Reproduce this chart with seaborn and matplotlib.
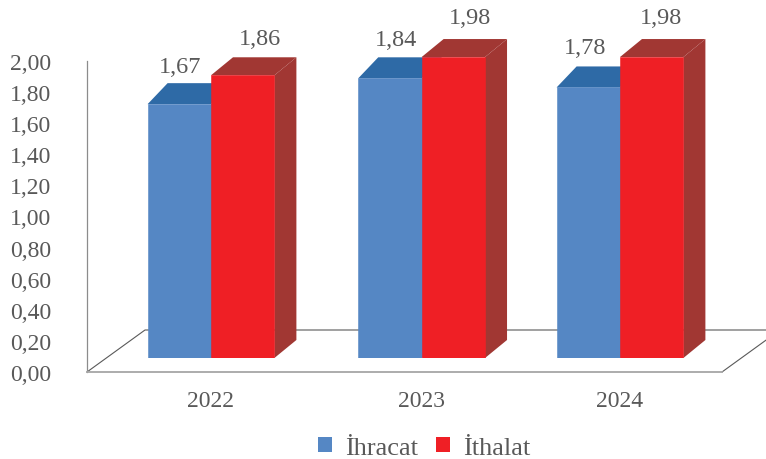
import pandas as pd
import seaborn as sns
import matplotlib.pyplot as plt
from matplotlib.patches import Polygon, Patch

# Data
years = ['2022', '2023', '2024']
ihracat = [1.67, 1.84, 1.78]
ithalat = [1.86, 1.98, 1.98]
series_names = ['İhracat', 'İthalat']
axis_ticks = [0.0, 0.2, 0.4, 0.6, 0.8, 1.0, 1.2, 1.4, 1.6, 1.8, 2.0]

# Styling
TEXT = '#595959'
FRONT = {'İhracat': '#5587C4', 'İthalat': '#EF1F25'}
TOP = {'İhracat': '#2E6AA6', 'İthalat': '#A13733'}
SIDE = {'İhracat': '#2E6AA6', 'İthalat': '#A13733'}

W, H = 766, 460
PX_PER_CAT = 204.5
PX_PER_UNIT = 152.0
BASE_Y = 359
LEFT, RIGHT = 87, 722
FLOOR_Y, TOP_Y = 373, 62
# bar depth in px per series
DEPTH = {'İhracat': (20, 21), 'İthalat': (22, 18)}
# the 2023 group sits slightly right of even spacing
GROUP_SHIFT = [0.0, 0.03, 0.0]
# value label offsets from the front top edge centre, px
LABEL_OFF = {'İhracat': [(1, 38), (6, 39), (-3, 40)], 'İthalat': [(17, 37), (17, 40), (9, 40)]}

sns.set_theme(style='white')
plt.rcParams['font.family'] = ['Liberation Serif', 'DejaVu Serif']

df = pd.DataFrame({
    'year': years * 2,
    'value': ihracat + ithalat,
    'series': [series_names[0]] * 3 + [series_names[1]] * 3,
})

fig = plt.figure(figsize=(W / 100, H / 100), dpi=100)

# Axis frame and floor, sits behind the bars
frame = fig.add_axes([LEFT / W, 1 - FLOOR_Y / H, (RIGHT - LEFT) / W, (FLOOR_Y - TOP_Y) / H])
frame.set_xlim(0, 1)
frame.set_ylim(0, 2)
frame.set_xticks([])
frame.set_yticks(axis_ticks)
frame.set_yticklabels([f'{t:.2f}'.replace('.', ',') for t in axis_ticks])
frame.tick_params(axis='y', length=0, pad=26, labelsize=17, labelcolor=TEXT)
sns.despine(ax=frame, top=True, right=True)
frame.spines['left'].set_color('#8c8c8c')
frame.spines['left'].set_linewidth(0.9)
frame.spines['bottom'].set_color('#a6a6a6')
frame.spines['bottom'].set_linewidth(1.3)
floor_dx = 58 / (RIGHT - LEFT)
floor_dy = 42 / (FLOOR_Y - TOP_Y) * 2
frame.plot([0, floor_dx, 1 + floor_dx], [0, floor_dy, floor_dy], color='#595959', lw=0.8, clip_on=False)
frame.plot([1, 1 + floor_dx], [0, floor_dy], color='#595959', lw=0.8, clip_on=False)

# Bars
ax = fig.add_axes([LEFT / W, 1 - BASE_Y / H, (RIGHT - LEFT) / W, (BASE_Y - 10) / H], zorder=2)
ax.patch.set_visible(False)
sns.barplot(data=df, x='year', y='value', hue='series', order=years, hue_order=series_names,
            palette=FRONT, saturation=1, width=0.62, gap=0, linewidth=0, legend=False, ax=ax)
ax.set_xlim(-(211 - LEFT) / PX_PER_CAT, 2 + (RIGHT - 620) / PX_PER_CAT)
ax.set_ylim(0, (BASE_Y - 10) / PX_PER_UNIT)
ax.set_xlabel('')
ax.set_ylabel('')
ax.set_yticks([])
ax.set_xticks([i + s for i, s in enumerate(GROUP_SHIFT)])
ax.set_xticklabels(years)
ax.tick_params(axis='x', length=0, pad=23, labelsize=17, labelcolor=TEXT)
sns.despine(ax=ax, left=True, bottom=True)

# Fake 3D: top and side faces built from each bar
for s, (name, container) in enumerate(zip(series_names, ax.containers)):
    dx = DEPTH[name][0] / PX_PER_CAT
    dy = DEPTH[name][1] / PX_PER_UNIT
    for i, bar in enumerate(container):
        bar.set_x(bar.get_x() + GROUP_SHIFT[i])
        bar.set_zorder(3 + 2 * s)
        bar.set_edgecolor(FRONT[name])
        bar.set_linewidth(0.4)
        x0, x1, h = bar.get_x(), bar.get_x() + bar.get_width(), bar.get_height()
        ax.add_patch(Polygon([(x0, h), (x0 + dx, h + dy), (x1 + dx, h + dy), (x1, h)],
                             facecolor=TOP[name], edgecolor='none', zorder=2 + 2 * s, clip_on=False))
        ax.add_patch(Polygon([(x1, 0), (x1 + dx, dy), (x1 + dx, h + dy), (x1, h)],
                             facecolor=SIDE[name], edgecolor='none', zorder=2 + 2 * s, clip_on=False))
        off_x, off_y = LABEL_OFF[name][i]
        ax.annotate(f'{h:.2f}'.replace('.', ','), ((x0 + x1) / 2, h),
                    xytext=(off_x * 0.72, off_y * 0.72), textcoords='offset points',
                    ha='center', va='center', fontsize=17.5, color=TEXT, zorder=10)

handles = [Patch(facecolor=FRONT[n], edgecolor='none', label=n) for n in series_names]
fig.legend(handles=handles, ncol=2, loc='center', bbox_to_anchor=(424 / W, 1 - 449 / H), frameon=False,
           fontsize=19, labelcolor=TEXT, handlelength=0.53, handleheight=0.53, handletextpad=0.49,
           columnspacing=0.68, borderpad=0)

fig.savefig('out.png', dpi=100)
